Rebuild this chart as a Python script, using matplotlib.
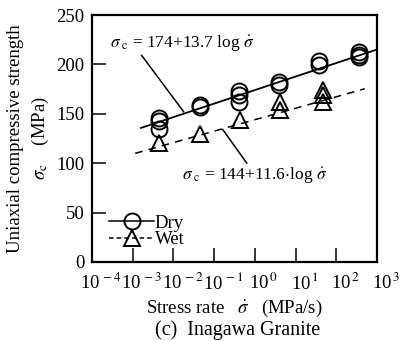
import numpy as np
import matplotlib
matplotlib.use("Agg")
import matplotlib.pyplot as plt
from matplotlib.transforms import ScaledTranslation

# ------------- DATA -------------
dry_rate = [0.0045, 0.0045, 0.0045, 0.045, 0.045, 0.41, 0.41, 0.41, 4.0, 4.0,
            38, 38, 363, 363, 363]
dry_strength = [146, 143, 135, 159, 157, 173, 169, 162, 182, 179,
                203, 199, 213, 210, 207]

wet_rate = [0.0045, 0.045, 0.43, 4.2, 4.2, 47, 47, 47]
wet_strength = [120, 130, 144, 162, 154, 174, 169, 162]

# fitted lines: sigma_c = a + b log(rate)
dry_fit = (174, 13.7)
wet_fit = (144, 11.6)
dry_fit_range = [10 ** -2.8, 1e3]
wet_fit_range = [10 ** -2.94, 10 ** 2.7]

x_ticks = [1e-4, 1e-3, 1e-2, 1e-1, 1e0, 1e1, 1e2, 1e3]
x_ticklabels = ["10$^{\\,-4}$", "10$^{\\,-3}$", "10$^{\\,-2}$", "10$^{\\,-1}$",
                "10$^{\\,0}$", "10$^{\\,1}$", "10$^{\\,2}$", "10$^{\\,3}$"]
y_ticks = [0, 50, 100, 150, 200, 250]
# -------------------------------------------------------

plt.rcParams["font.family"] = ["Liberation Serif", "DejaVu Serif"]
plt.rcParams["mathtext.fontset"] = "stix"
FS = 13.5

fig = plt.figure(figsize=(4.02, 3.41), dpi=100)
ax = fig.add_axes([0.229, 0.232, 0.709, 0.724])

# fit lines
xd = np.array(dry_fit_range)
ax.plot(xd, dry_fit[0] + dry_fit[1] * np.log10(xd), color="black", lw=1.3)
xw = np.array(wet_fit_range)
ax.plot(xw, wet_fit[0] + wet_fit[1] * np.log10(xw), color="black", lw=1.1,
        dashes=(5, 4))

# data points
ax.plot(dry_rate, dry_strength, "o", ms=11.5, mfc="none", mec="black", mew=1.4)
ax.plot(wet_rate, wet_strength, "^", ms=11.5, mfc="none", mec="black", mew=1.4)

# legend (proxy handles)
h_dry, = ax.plot([], [], "-o", color="black", ms=11.5, mfc="none", mew=1.4, lw=1.1)
h_wet, = ax.plot([], [], "^", color="black", ms=11.5, mfc="none", mew=1.4, lw=1.1,
                 linestyle=(0, (3, 2)))
ax.legend([h_dry, h_wet], ["Dry", "Wet"], loc="lower left",
          bbox_to_anchor=(0.02, 0.01), frameon=False, fontsize=FS,
          handlelength=2.4, handletextpad=0.05, labelspacing=-0.05,
          borderaxespad=0.2)

# equation labels with leader lines
ax.text(10 ** -3.55, 222, "$\\sigma_{\\ \\rm c}$ = 174+13.7 log $\\dot{\\sigma}$",
        fontsize=12.5, va="center", ha="left")
ax.plot([10 ** -2.78, 10 ** -1.75], [209, 152], color="black", lw=1.1)
ax.text(10 ** -1.8, 88, "$\\sigma_{\\ \\rm c}$ = 144+11.6$\\cdot$log $\\dot{\\sigma}$",
        fontsize=12.5, va="center", ha="left")
ax.plot([10 ** -0.79, 10 ** -0.2], [134, 100], color="black", lw=1.1)

ax.set_xscale("log")
ax.set_xlim(1e-4, 1e3)
ax.set_ylim(0, 250)
ax.set_xticks(x_ticks)
ax.set_xticklabels(x_ticklabels)
ax.xaxis.set_minor_locator(matplotlib.ticker.NullLocator())
ax.set_yticks(y_ticks)
ax.tick_params(direction="in", length=10, width=1.1, labelsize=FS)
ax.tick_params(axis="y", pad=5.5)
ax.tick_params(axis="x", pad=7.5)
for s in ax.spines.values():
    s.set_linewidth(1.6)

# the "10" of each x label sits just right of its tick
shift = ScaledTranslation(0.09, 0, fig.dpi_scale_trans)
for lab in ax.get_xticklabels():
    lab.set_transform(lab.get_transform() + shift)

ax.set_xlabel("Stress rate   $\\dot{\\sigma}$   (MPa/s)", fontsize=FS, labelpad=3)
ax.set_ylabel("Uniaxial compressive strength\n$\\sigma_{\\rm c}$    (MPa)",
              fontsize=FS, labelpad=4, linespacing=1.35)
fig.text(0.592, 0.032, "(c)  Inagawa Granite", fontsize=14.5, ha="center", va="center")

fig.savefig("out.png", dpi=100)
